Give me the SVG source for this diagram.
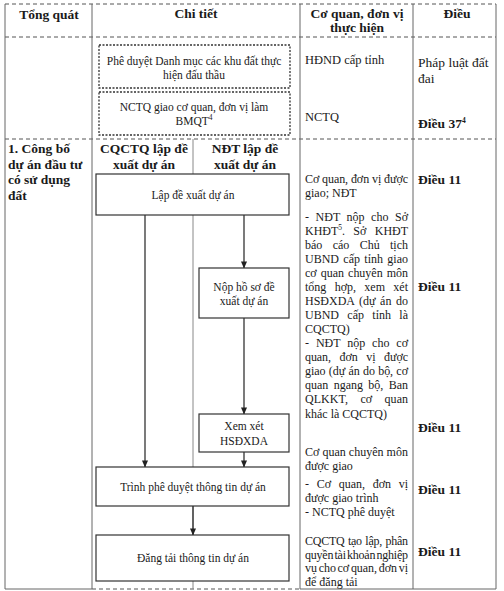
<svg xmlns="http://www.w3.org/2000/svg" width="504" height="591" viewBox="0 0 504 591">
<style>
text{font-family:"Liberation Serif","Times New Roman",serif;fill:#1a1a1a}
.h{font-size:13.5px;font-weight:bold}
.b{font-size:13.5px;font-weight:bold}
.t{font-size:11.5px}
.c{font-size:12px}
.grid{stroke:#666;stroke-width:1;fill:none}
.dash{stroke:#555;stroke-width:1;stroke-dasharray:4 3;fill:none}
.lane{stroke:#888;stroke-width:1;fill:none}
.box{fill:#fff;stroke:#333;stroke-width:1.2}
.dbox{fill:#fff;stroke:#333;stroke-width:1.3;stroke-dasharray:2 1.5}
.con{stroke:#222;stroke-width:1.2;fill:none;marker-end:url(#ah)}
.sup{font-size:7.5px}
</style>
<defs>
<marker id="ah" viewBox="0 0 8 8" refX="7.5" refY="4" markerWidth="7" markerHeight="7" markerUnits="userSpaceOnUse" orient="auto">
<path d="M0,0.5 L8,4 L0,7.5 Z" fill="#222"/>
</marker>
</defs>
<rect width="504" height="591" fill="#fff"/>

<g id="table">
<line class="dash" x1="5" y1="4" x2="496" y2="4"/>
<line class="dash" x1="5" y1="37" x2="496" y2="37"/>
<line class="dash" x1="5" y1="139" x2="496" y2="139"/>
<line class="grid" x1="5" y1="4" x2="5" y2="589"/>
<line class="grid" x1="92" y1="4" x2="92" y2="589"/>
<line class="grid" x1="300" y1="4" x2="300" y2="589"/>
<line class="grid" x1="413" y1="4" x2="413" y2="589"/>
<line class="grid" x1="496" y1="4" x2="496" y2="589"/>
<line class="grid" x1="5" y1="589" x2="92" y2="589"/>
<line class="dash" x1="92" y1="589" x2="300" y2="589"/>
<line class="grid" x1="300" y1="589" x2="496" y2="589"/>
<line class="lane" x1="193" y1="139" x2="193" y2="589"/>
</g>

<g id="header">
<text class="h" x="49" y="19" text-anchor="middle">Tổng quát</text>
<text class="h" x="196" y="18" text-anchor="middle">Chi tiết</text>
<text class="h" x="357" y="18" text-anchor="middle">Cơ quan, đơn vị</text>
<text class="h" x="357" y="32" text-anchor="middle">thực hiện</text>
<text class="h" x="457" y="18" text-anchor="middle">Điều</text>
</g>

<g id="row1">
<text class="c" x="305" y="64" style="font-size:12.5px">HĐND cấp tỉnh</text>
<text class="c" x="305" y="121" style="font-size:12.5px">NCTQ</text>
<text class="c" x="418" y="67" style="font-size:13.5px">Pháp luật đất</text>
<text class="c" x="418" y="83" style="font-size:13.5px">đai</text>
<text class="b" x="418" y="128">Điều 37<tspan class="sup" dy="-5">4</tspan></text>
</g>

<g id="row2-labels">
<text class="b" x="8" y="153">1. Công bố</text>
<text class="b" x="8" y="169">dự án đầu tư</text>
<text class="b" x="8" y="184">có sử dụng</text>
<text class="b" x="8" y="200">đất</text>
<text class="b" x="144" y="153" text-anchor="middle">CQCTQ lập đề</text>
<text class="b" x="144" y="169" text-anchor="middle">xuất dự án</text>
<text class="b" x="245" y="153" text-anchor="middle">NĐT lập đề</text>
<text class="b" x="245" y="169" text-anchor="middle">xuất dự án</text>
</g>

<g id="agencies">
<text class="c" x="305" y="183" textLength="103" lengthAdjust="spacing">Cơ quan, đơn vị được</text>
<text class="c" x="305" y="197">giao; NĐT</text>
<text class="c" x="305" y="221" textLength="103" lengthAdjust="spacing" word-spacing="3.6">- NĐT nộp cho Sở</text>
<text class="c" x="305" y="235" textLength="103" lengthAdjust="spacing" word-spacing="5.5">KHĐT<tspan class="sup" dy="-5">5</tspan><tspan dy="5">. Sở KHĐT</tspan></text>
<text class="c" x="305" y="249" textLength="103" lengthAdjust="spacing" word-spacing="7.3">báo cáo Chủ tịch</text>
<text class="c" x="305" y="263" textLength="103" lengthAdjust="spacing" word-spacing="1.3">UBND cấp tỉnh giao</text>
<text class="c" x="305" y="277" textLength="103" lengthAdjust="spacing" word-spacing="1.1">cơ quan chuyên môn</text>
<text class="c" x="305" y="291" textLength="103" lengthAdjust="spacing" word-spacing="5.4">tổng hợp, xem xét</text>
<text class="c" x="305" y="305" textLength="103" lengthAdjust="spacing" word-spacing="1.6">HSĐXDA (dự án do</text>
<text class="c" x="305" y="319" textLength="103" lengthAdjust="spacing" word-spacing="5.3">UBND cấp tỉnh là</text>
<text class="c" x="305" y="333">CQCTQ)</text>
<text class="c" x="305" y="347" textLength="103" lengthAdjust="spacing" word-spacing="3.9">- NĐT nộp cho cơ</text>
<text class="c" x="305" y="361" textLength="103" lengthAdjust="spacing" word-spacing="5.7">quan, đơn vị được</text>
<text class="c" x="305" y="375" textLength="103" lengthAdjust="spacing" word-spacing="0.3">giao (dự án do bộ, cơ</text>
<text class="c" x="305" y="389" textLength="103" lengthAdjust="spacing" word-spacing="2.3">quan ngang bộ, Ban</text>
<text class="c" x="305" y="403" textLength="103" lengthAdjust="spacing" word-spacing="9.3">QLKKT, cơ quan</text>
<text class="c" x="305" y="418">khác là CQCTQ)</text>
<text class="c" x="305" y="456" textLength="103" lengthAdjust="spacing">Cơ quan chuyên môn</text>
<text class="c" x="305" y="470">được giao</text>
<text class="c" x="305" y="488" textLength="103" lengthAdjust="spacing" word-spacing="4.8">- Cơ quan, đơn vị</text>
<text class="c" x="305" y="502">được giao trình</text>
<text class="c" x="305" y="516">- NCTQ phê duyệt</text>
<text class="c" x="305" y="545" textLength="103" lengthAdjust="spacing" word-spacing="0.8">CQCTQ tạo lập, phân</text>
<text class="c" x="305" y="559" textLength="103" lengthAdjust="spacing" word-spacing="-1.5">quyền tài khoản nghiệp</text>
<text class="c" x="305" y="572" textLength="103" lengthAdjust="spacing" word-spacing="-1.2">vụ cho cơ quan, đơn vị</text>
<text class="c" x="305" y="586">để đăng tải</text>
</g>

<g id="articles">
<text class="b" x="418" y="184">Điều 11</text>
<text class="b" x="418" y="291">Điều 11</text>
<text class="b" x="418" y="432">Điều 11</text>
<text class="b" x="418" y="494">Điều 11</text>
<text class="b" x="418" y="556">Điều 11</text>
</g>

<g id="connectors">
<line class="con" x1="145" y1="215" x2="145" y2="467"/>
<line class="con" x1="244" y1="215" x2="244" y2="268"/>
<line class="con" x1="244" y1="318" x2="244" y2="414"/>
<line class="con" x1="244" y1="452" x2="244" y2="467"/>
<line class="con" x1="193" y1="506" x2="193" y2="535"/>
</g>

<g id="node-phe-duyet-danh-muc">
<rect class="dbox" x="99" y="45" width="191" height="43"/>
<text class="t" x="194" y="65" text-anchor="middle">Phê duyệt Danh mục các khu đất thực</text>
<text class="t" x="194" y="79" text-anchor="middle">hiện đấu thầu</text>
</g>

<g id="node-nctq-giao">
<rect class="dbox" x="99" y="92" width="191" height="43"/>
<text class="t" x="194" y="111" text-anchor="middle">NCTQ giao cơ quan, đơn vị làm</text>
<text class="t" x="194" y="125" text-anchor="middle">BMQT<tspan class="sup" dy="-5">4</tspan></text>
</g>

<g id="node-lap-de-xuat">
<rect class="box" x="96" y="174" width="193" height="41"/>
<text class="t" x="193" y="199" text-anchor="middle">Lập đề xuất dự án</text>
</g>

<g id="node-nop-ho-so">
<rect class="box" x="199" y="268" width="90" height="50"/>
<text class="t" x="244" y="291" text-anchor="middle">Nộp hồ sơ đề</text>
<text class="t" x="244" y="305" text-anchor="middle">xuất dự án</text>
</g>

<g id="node-xem-xet">
<rect class="box" x="199" y="414" width="90" height="38"/>
<text class="t" x="244" y="430" text-anchor="middle">Xem xét</text>
<text class="t" x="244" y="445" text-anchor="middle">HSĐXDA</text>
</g>

<g id="node-trinh-phe-duyet">
<rect class="box" x="96" y="467" width="193" height="39"/>
<text class="t" x="193" y="491" text-anchor="middle">Trình phê duyệt thông tin dự án</text>
</g>

<g id="node-dang-tai">
<rect class="box" x="96" y="535" width="193" height="46"/>
<text class="t" x="193" y="562" text-anchor="middle">Đăng tải thông tin dự án</text>
</g>
</svg>
